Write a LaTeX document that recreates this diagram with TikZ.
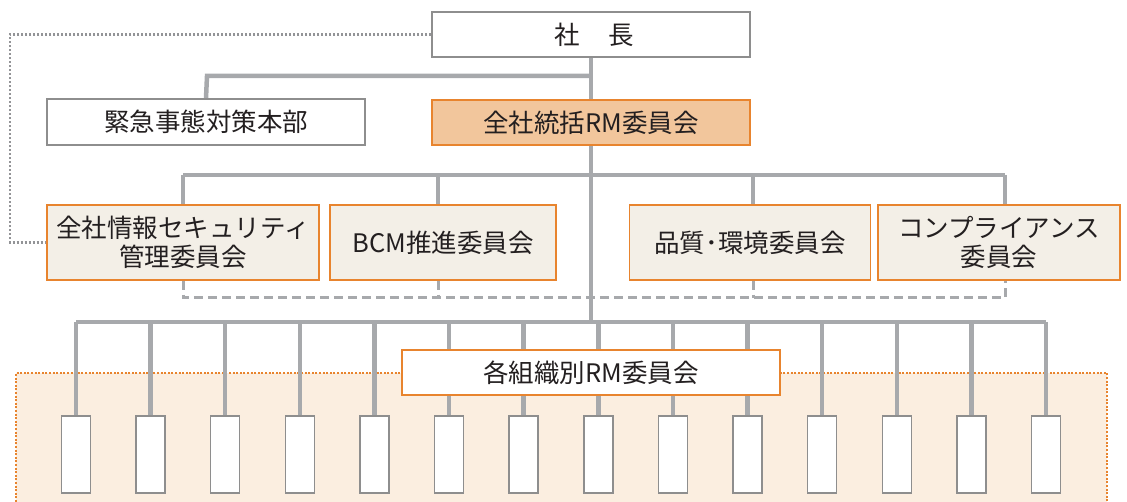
\documentclass[tikz,border=0pt]{standalone}
\usepackage{fontspec}
\setmainfont{Noto Sans CJK JP}
\usetikzlibrary{calc}
\pgfdeclarelayer{zone}
\pgfdeclarelayer{lines}
\pgfsetlayers{zone,lines,main}
\definecolor{linegray}{HTML}{A7A9AC}
\definecolor{dotgray}{HTML}{939497}
\definecolor{boxgray}{HTML}{8E8E8E}
\definecolor{orangeline}{HTML}{E8842E}
\definecolor{orangefill}{HTML}{F2C69C}
\definecolor{beigefill}{HTML}{F3EFE7}
\definecolor{zonefill}{HTML}{FBEEE0}
\definecolor{txt}{HTML}{231F20}
\tikzset{
  bus/.style={draw=linegray,line width=4.5pt},
  dbus/.style={draw=linegray,line width=3pt,dash pattern=on 9pt off 5pt},
  dotg/.style={draw=dotgray,line width=2.8pt,dash pattern=on 2pt off 2pt},
  basebox/.style={rectangle,inner sep=0pt,align=center,text=txt,font=\fontsize{25.5}{29}\selectfont},
  whitebox/.style={basebox,draw=boxgray,line width=1.5pt,fill=white},
  mainbox/.style={basebox,draw=orangeline,line width=1.5pt,fill=orangefill},
  combox/.style={basebox,draw=orangeline,line width=1.5pt,fill=beigefill},
  orgbox/.style={basebox,draw=orangeline,line width=1.5pt,fill=white},
  smallbox/.style={rectangle,draw=boxgray,line width=1.5pt,fill=white,minimum width=29pt,minimum height=77pt,inner sep=0pt},
}
\begin{document}
\begin{tikzpicture}[x=1pt,y=-1pt]
\useasboundingbox (0,0) rectangle (1127,502);
% nodes
\node[whitebox,minimum width=318pt,minimum height=45pt] (pres) at (591,34.5) {\hspace{7pt}社\hspace{1.1em}長};
\node[whitebox,minimum width=318pt,minimum height=46pt] (ems) at (206,122) {緊急事態対策本部};
\node[mainbox,minimum width=318pt,minimum height=45pt] (rm) at (591,122.5) {全社統括RM委員会};
\node[combox,minimum width=272pt,minimum height=75pt] (isec) at (183,242.5) {全社情報セキュリティ\\管理委員会};
\node[combox,minimum width=226pt,minimum height=75pt] (bcm) at (443,242.5) {BCM推進委員会};
\node[combox,minimum width=241pt,minimum height=75pt] (qe) at (750,242.5) {品質･環境委員会};
\node[combox,minimum width=242pt,minimum height=75pt] (comp) at (999,242.5) {コンプライアンス\\委員会};
\node[orgbox,minimum width=378pt,minimum height=45pt] (org) at (591,372.5) {各組織別RM委員会};
\foreach \i in {0,...,13} {
  \pgfmathsetmacro{\xx}{76+\i*74.615}
  \node[smallbox] (s\i) at (\xx,454.5) {};
}
\coordinate (b1) at (207,76);
\coordinate (b2w) at (183,175);
\coordinate (b2e) at (1005,175);
\coordinate (dw) at (183,298);
\coordinate (de) at (1005,298);
\coordinate (b3w) at (76,322);
\coordinate (b3e) at (1046,322);
\coordinate (dl) at (10,34.5);
\coordinate (bcmx) at (438,175);
\coordinate (qex) at (753,175);
% zone background
\begin{pgfonlayer}{zone}
\begin{scope}
\clip (0,0) rectangle (1127,502);
\fill[zonefill] (16,373) rectangle (1107,520);
\draw[draw=orangeline,line width=2.5pt,dash pattern=on 2pt off 1.6pt] (16,520) -- (16,373) -- (1107,373) -- (1107,520);
\end{scope}
\end{pgfonlayer}
% connectors
\begin{pgfonlayer}{lines}
\draw[bus] (pres.south) -- (rm.north);
\draw[bus] (pres.south |- b1) -- (b1) -- (ems.north);
\draw[bus] (rm.south) -- (rm.south |- b3w);
\draw[bus] (b2w) -- (b2e);
\draw[bus] (b2w) -- (isec.north);
\draw[bus] (bcmx) -- (bcmx |- bcm.north);
\draw[bus] (qex) -- (qex |- qe.north);
\draw[bus] (b2e) -- (b2e |- comp.north);
\draw[dbus] (isec.south) -- (dw) -- (de) -- (de |- comp.south);
\draw[dbus] (bcmx |- bcm.south) -- (bcmx |- dw);
\draw[dbus] (qex |- qe.south) -- (qex |- dw);
\draw[bus] (b3w) -- (b3e);
\foreach \i in {0,...,13} {
  \draw[bus] (s\i.north) -- (s\i.north |- b3w);
}
\draw[dotg] (pres.west) -- (dl) -- (dl |- isec.west) -- (isec.west);
\end{pgfonlayer}
\end{tikzpicture}
\end{document}
